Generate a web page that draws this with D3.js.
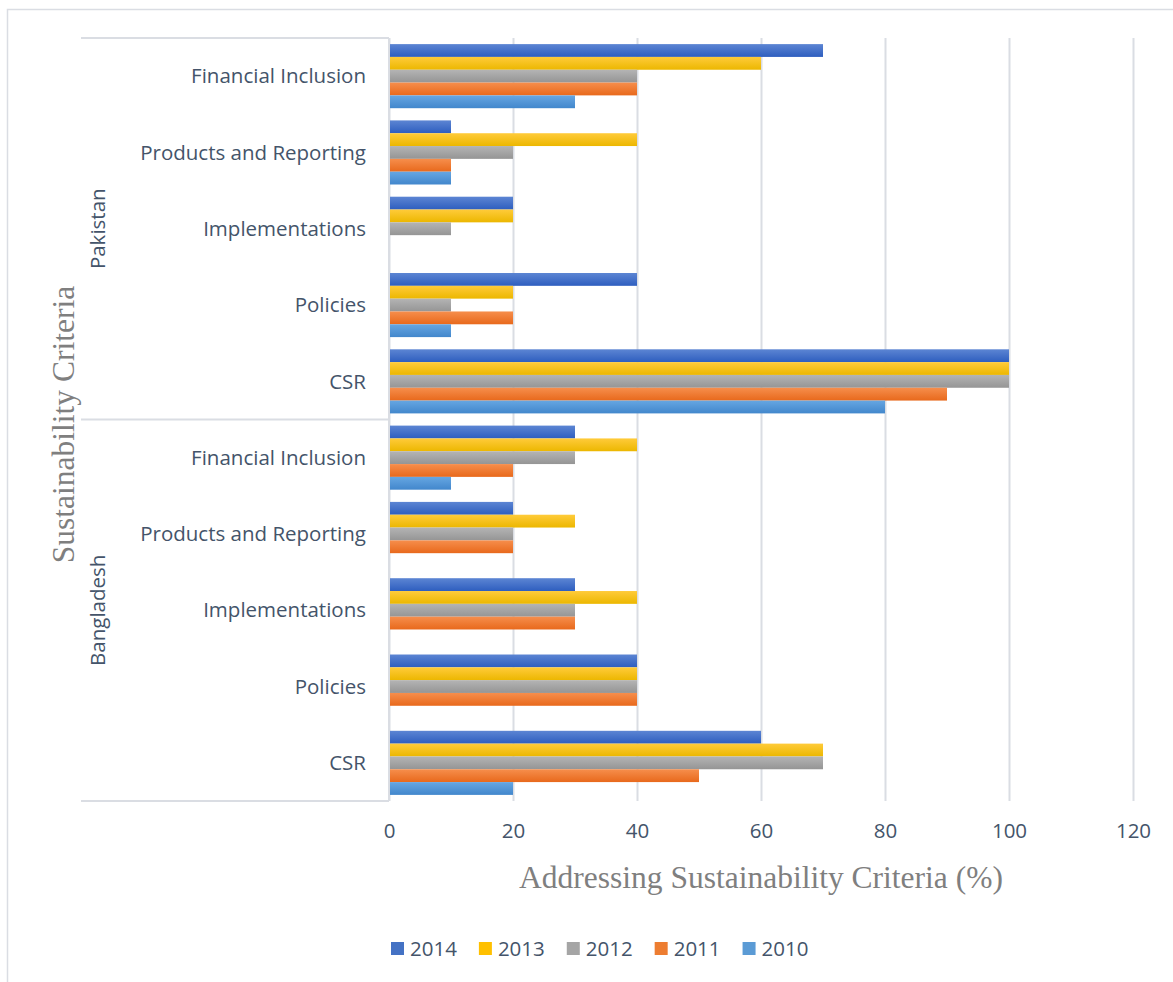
<!DOCTYPE html>
<html>
<head>
<meta charset="utf-8">
<script src="https://cdn.jsdelivr.net/npm/d3@7"></script>
<style>
  body { margin: 0; background: #fff; }
  svg { display: block; }
</style>
</head>
<body>
<svg id="chart" width="1173" height="982"></svg>
<script>
// Rows top to bottom: Pakistan criteria, then Bangladesh criteria
const countries = ["Pakistan", "Bangladesh"];
const criteria = ["Financial Inclusion", "Products and Reporting", "Implementations", "Policies", "CSR"];
const years = ["2014", "2013", "2012", "2011", "2010"];

// Share of sustainability criteria addressed (%), one value per row
const v2014 = [70, 10, 20, 40, 100, 30, 20, 30, 40, 60];
const v2013 = [60, 40, 20, 20, 100, 40, 30, 40, 40, 70];
const v2012 = [40, 20, 10, 10, 100, 30, 20, 30, 40, 70];
const v2011 = [40, 10, 0, 20, 90, 20, 20, 30, 40, 50];
const v2010 = [30, 10, 0, 10, 80, 10, 0, 0, 0, 20];

const xTicks = [0, 20, 40, 60, 80, 100, 120];
const xTitle = "Addressing Sustainability Criteria (%)";
const yTitle = "Sustainability Criteria";

const seriesValues = { "2014": v2014, "2013": v2013, "2012": v2012, "2011": v2011, "2010": v2010 };
const seriesColors = {
  "2014": ["#5C85D3", "#2E5EBF", "#4472C4"],
  "2013": ["#FFCB3A", "#ECB700", "#FFC000"],
  "2012": ["#B4B4B4", "#959595", "#A5A5A5"],
  "2011": ["#F68E4C", "#E8691C", "#ED7D31"],
  "2010": ["#66A6E2", "#4287CC", "#5B9BD5"]
};

const rows = [];
countries.forEach(c => criteria.forEach(k => rows.push({ country: c, criterion: k, key: c + "|" + k })));

const svg = d3.select("#chart");
const labelFont = "'Open Sans', sans-serif";
const labelSize = 20.5;
const titleFont = "'Liberation Serif', 'Times New Roman', serif";
const titleSize = 31.5;
const textColor = "#44546A";
const lineColor = "#DADDE3";

// Gradients for the bar fills
const defs = svg.append("defs");
years.forEach(yr => {
  const g = defs.append("linearGradient").attr("id", "grad" + yr)
    .attr("x1", 0).attr("y1", 0).attr("x2", 0).attr("y2", 1);
  g.append("stop").attr("offset", "0%").attr("stop-color", seriesColors[yr][0]);
  g.append("stop").attr("offset", "100%").attr("stop-color", seriesColors[yr][1]);
});

// Chart area frame
svg.append("path")
  .attr("d", "M7.5,982 V9.5 H1173")
  .attr("fill", "none").attr("stroke", lineColor).attr("stroke-width", 1.5);

const plotTop = 38, plotBottom = 801, plotLeft = 389, plotRight = 1133;

const x = d3.scaleLinear().domain([0, 120]).range([plotLeft, plotRight]);
const y = d3.scaleBand().domain(rows.map(r => r.key)).range([plotTop, plotBottom])
  .paddingInner(0.16).paddingOuter(0.08);
const ySub = d3.scaleBand().domain(years).range([0, y.bandwidth()]);

// Vertical gridlines
svg.append("g")
  .attr("transform", `translate(0,${plotBottom})`)
  .call(d3.axisBottom(x).tickValues(xTicks).tickSize(-(plotBottom - plotTop)).tickFormat(""))
  .call(g => g.select(".domain").remove())
  .call(g => g.selectAll("line").attr("stroke", lineColor).attr("stroke-width", 2));

// Tick labels
svg.append("g")
  .attr("transform", `translate(0,${plotBottom})`)
  .call(d3.axisBottom(x).tickValues(xTicks).tickSize(0).tickPadding(22))
  .call(g => g.select(".domain").remove())
  .call(g => g.selectAll("text")
    .attr("font-family", labelFont).attr("font-size", labelSize).attr("fill", textColor));

// Bars
const rowG = svg.append("g").selectAll("g").data(rows).join("g")
  .attr("transform", r => `translate(0,${y(r.key)})`);
years.forEach(yr => {
  rowG.append("rect")
    .attr("x", x(0))
    .attr("y", ySub(yr))
    .attr("width", (r, i) => x(seriesValues[yr][i]) - x(0))
    .attr("height", ySub.bandwidth())
    .attr("fill", `url(#grad${yr})`);
});

// Category axis: lines
const groupStep = y.step() * criteria.length;
const catLeft = 81;
const axisG = svg.append("g").attr("stroke", lineColor).attr("stroke-width", 2).attr("fill", "none");
axisG.append("line").attr("x1", plotLeft).attr("x2", plotLeft).attr("y1", plotTop).attr("y2", plotBottom);
[0, 1, 2].forEach(i => {
  const yy = plotTop + i * groupStep;
  axisG.append("line").attr("x1", catLeft).attr("x2", plotLeft).attr("y1", yy).attr("y2", yy);
});

// Category labels
svg.append("g").selectAll("text").data(rows).join("text")
  .attr("x", 366)
  .attr("y", r => y(r.key) + y.bandwidth() / 2)
  .attr("dy", "0.35em")
  .attr("text-anchor", "end")
  .attr("font-family", labelFont).attr("font-size", labelSize).attr("fill", textColor)
  .text(r => r.criterion);

// Country labels
svg.append("g").selectAll("text").data(countries).join("text")
  .attr("transform", (c, i) => `translate(98,${plotTop + (i + 0.5) * groupStep}) rotate(-90)`)
  .attr("dy", "0.35em")
  .attr("text-anchor", "middle")
  .attr("font-family", labelFont).attr("font-size", labelSize).attr("fill", textColor)
  .text(c => c);

// Axis titles
svg.append("text")
  .attr("transform", `translate(63,${(plotTop + plotBottom) / 2 + 5}) rotate(-90)`)
  .attr("dy", "0.35em")
  .attr("text-anchor", "middle")
  .attr("font-family", titleFont).attr("font-size", titleSize).attr("fill", "#7F7F7F")
  .text(yTitle);

svg.append("text")
  .attr("x", 761).attr("y", 877)
  .attr("dy", "0.35em")
  .attr("text-anchor", "middle")
  .attr("font-family", titleFont).attr("font-size", titleSize).attr("fill", "#7F7F7F")
  .text(xTitle);

// Legend
const legend = svg.append("g");
let lx = 391;
years.forEach(yr => {
  legend.append("rect").attr("x", lx).attr("y", 942).attr("width", 13).attr("height", 13)
    .attr("fill", seriesColors[yr][2]);
  const t = legend.append("text").attr("x", lx + 19).attr("y", 948.5).attr("dy", "0.35em")
    .attr("font-family", labelFont).attr("font-size", labelSize).attr("fill", textColor)
    .text(yr);
  lx += 19 + t.node().getComputedTextLength() + 22;
});
</script>
</body>
</html>
